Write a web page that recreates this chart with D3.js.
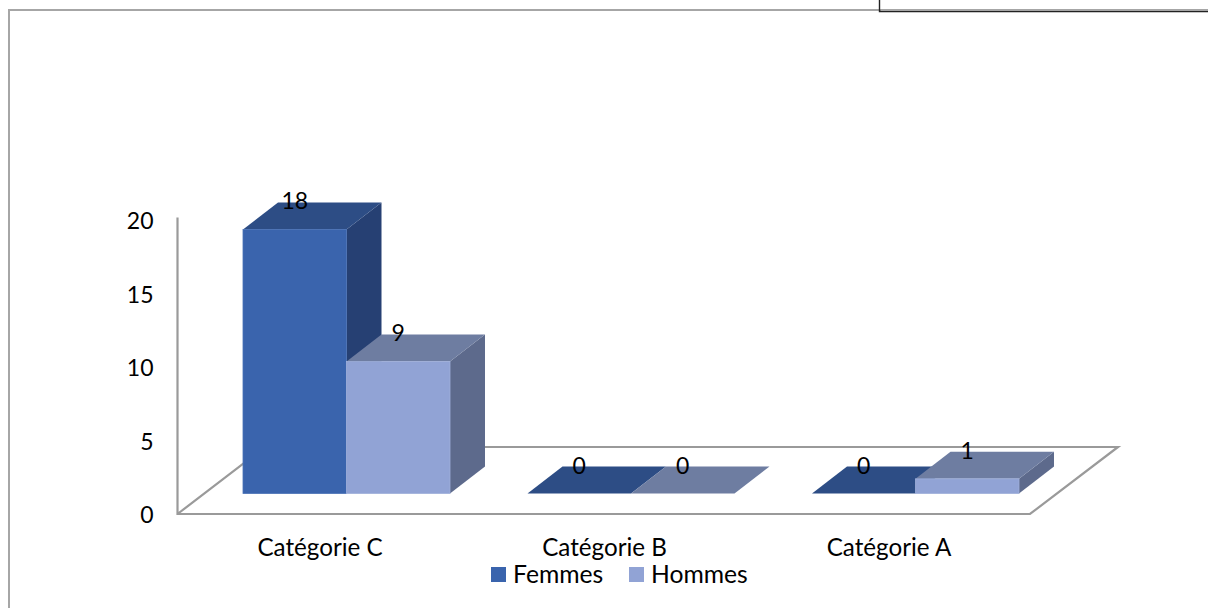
<!DOCTYPE html>
<html lang="fr">
<head>
<meta charset="utf-8">
<script src="https://cdn.jsdelivr.net/npm/d3@7/dist/d3.min.js"></script>
<style>
  html, body { margin: 0; padding: 0; background: #fff; }
  svg { display: block; }
  text { font-family: Lato, "Open Sans", sans-serif; fill: #000; }
</style>
</head>
<body>
<svg id="chart" width="1208" height="608"></svg>
<script>
// Effectifs par catégorie et par sexe
const categories = ["Catégorie C", "Catégorie B", "Catégorie A"];
const seriesNames = ["Femmes", "Hommes"];
const femmes = [18, 0, 0];
const hommes = [9, 0, 1];
const yTicks = [0, 5, 10, 15, 20];

const frontColors = ["#3a64ad", "#91a3d5"];
const topColors = ["#2d4d85", "#6e7da1"];
const sideColors = ["#264073", "#5d6a8c"];
const edgeColors = ["#4a72b6", "#a0b0da"];

const svg = d3.select("#chart");
const digitSize = 23;
const labelSize = 24.2;

// Oblique projection: depth of a bar on screen, and of the floor
const depth = { dx: 35, dy: -27 };
const floorDepth = { dx: 88, dy: -67 };

const baseline = 493.5;
const yBar = d3.scaleLinear().domain([0, 20]).range([baseline, baseline - 293.4]);
const yWall = d3.scaleLinear().domain([0, 20]).range([514, 220.6]);
const x0 = d3.scaleBand().domain(categories).range([243, 1019]).paddingInner(77.5 / 284.5);
const x1 = d3.scaleBand().domain(seriesNames).range([0, x0.bandwidth()]);

// Frame of the chart area, with the box cut off above it
const gray = "#a6a6a6";
svg.append("path").attr("d", "M9,608V10H1208").attr("fill", "none").attr("stroke", gray).attr("stroke-width", 2);
svg.append("path").attr("d", "M879.5,0V11.5H1208").attr("fill", "none").attr("stroke", "#222").attr("stroke-width", 1.4);
svg.append("rect").attr("x", 881).attr("y", 9).attr("width", 327).attr("height", 2).attr("fill", gray);

// Wall and floor outline
const axisGray = "#9a9a9a";
const xL = 177, xR = 1030, yF = yWall(0);
svg.append("path")
  .attr("d", `M${xL + 0.5},${yWall(20) - 3}V${yF}H${xR}l${floorDepth.dx},${floorDepth.dy}H${xL + floorDepth.dx}L${xL + 0.5},${yF}`)
  .attr("fill", "none").attr("stroke", axisGray).attr("stroke-width", 2.2);

// Value axis
svg.append("g")
  .attr("transform", "translate(153.5,1)")
  .call(d3.axisLeft(yWall).tickValues(yTicks).tickSize(0).tickPadding(0))
  .call(g => g.select(".domain").remove())
  .selectAll("text").attr("font-size", digitSize).style("font-family", "Lato");

// Category axis, shifted left of the bars as in the projected plane
svg.append("g")
  .attr("transform", "translate(-26.5,539)")
  .call(d3.axisBottom(x0).tickSize(0).tickPadding(0))
  .call(g => g.select(".domain").remove())
  .selectAll("text").attr("font-size", labelSize).style("font-family", "Lato");

// One 3D bar: side, top, then front face (left to right so neighbours overlap correctly)
const rows = [];
seriesNames.forEach((name, s) => {
  const values = s === 0 ? femmes : hommes;
  categories.forEach((cat, c) => rows.push({ cat, name, s, value: values[c] }));
});

const bars = svg.append("g").selectAll("g").data(rows).join("g")
  .attr("transform", d => `translate(${x0(d.cat) + x1(d.name)},0)`);

const w = x1.bandwidth();
bars.filter(d => d.value > 0).append("path")
  .attr("fill", d => sideColors[d.s])
  .attr("d", d => `M${w},${yBar(d.value)}l${depth.dx},${depth.dy}V${baseline + depth.dy}L${w},${baseline}Z`);
bars.append("path")
  .attr("fill", d => topColors[d.s])
  .attr("d", d => `M0,${yBar(d.value)}l${depth.dx},${depth.dy}h${w}l${-depth.dx},${-depth.dy}Z`);
bars.filter(d => d.value > 0).append("rect")
  .attr("y", d => yBar(d.value))
  .attr("width", w)
  .attr("height", d => baseline - yBar(d.value))
  .attr("fill", d => frontColors[d.s])
  .attr("stroke", d => edgeColors[d.s])
  .attr("stroke-width", 0.8);

// Value labels sit on the back edge of each bar's top face
svg.append("g").selectAll("text").data(rows).join("text")
  .attr("x", d => x0(d.cat) + x1(d.name) + w / 2)
  .attr("y", d => yBar(d.value) + depth.dy + 7)
  .attr("text-anchor", "middle")
  .attr("font-size", digitSize)
  .text(d => d.value);

// Legend
const legendX = [491, 629];
const legend = svg.append("g").selectAll("g").data(seriesNames).join("g")
  .attr("transform", (d, i) => `translate(${legendX[i]},567)`);
legend.append("rect").attr("width", 15).attr("height", 15).attr("fill", (d, i) => frontColors[i]);
legend.append("text").attr("x", 22).attr("y", 16).attr("font-size", 24.7).text(d => d);
</script>
</body>
</html>
